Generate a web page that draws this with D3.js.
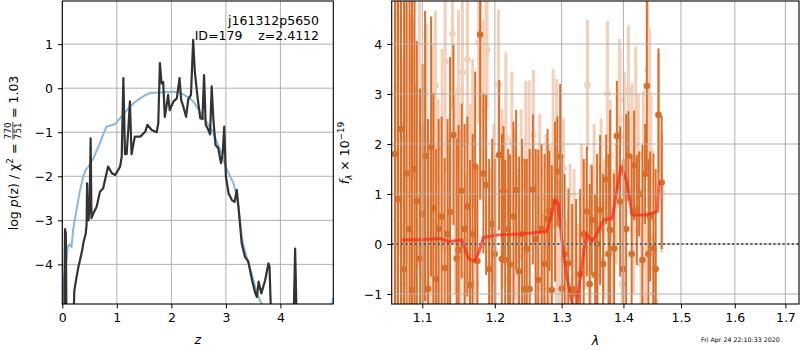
<!DOCTYPE html>
<html><head><meta charset="utf-8">
<script src="https://cdn.jsdelivr.net/npm/d3@7"></script>
<style>
body{margin:0;background:#fff}
svg{font-family:"DejaVu Sans",sans-serif}
.tick text{font-size:12.5px}
</style></head><body>
<svg width="800" height="350"></svg>
<script>
// left panel: redshift probability
var zTicks = [0, 1, 2, 3, 4]
var pTicks = [-4, -3, -2, -1, 0, 1]
var priorZ = [0,0.03,0.08,0.1,0.13,0.17,0.2,0.26,0.32,0.385,0.43,0.48,0.57,0.63,0.69,0.75,0.81,0.9,0.97,1.06,1.15,1.24,1.33,1.43,1.52,1.61,1.79,2.04,2.15,2.22,2.34,2.42,2.5,2.62,2.74,2.83,2.92,3.0,3.05,3.14,3.2,3.23,3.26,3.29,3.33,3.38,3.47,3.57,3.69,3.9,4.5,4.85,4.97]
var priorP = [-4.85,-4.3,-3.86,-3.6,-3.55,-3.6,-3.2,-2.77,-2.35,-2.0,-1.85,-1.78,-1.59,-1.42,-1.25,-1.05,-0.87,-0.84,-0.81,-0.68,-0.55,-0.42,-0.32,-0.23,-0.16,-0.11,-0.1,-0.08,-0.1,-0.14,-0.23,-0.33,-0.49,-0.72,-0.95,-1.2,-1.48,-1.8,-1.93,-2.16,-2.45,-2.69,-3.0,-3.37,-3.6,-3.83,-4.2,-4.66,-5.0,-5.6,-6,-5.6,-4.75]
var pzZ = [0.03,0.05,0.065,0.08,0.19,0.22,0.26,0.29,0.325,0.36,0.39,0.43,0.445,0.455,0.47,0.48,0.5,0.52,0.535,0.57,0.63,0.69,0.75,0.78,0.84,0.91,0.97,1.06,1.09,1.12,1.15,1.18,1.21,1.24,1.27,1.33,1.43,1.52,1.56,1.64,1.73,1.76,1.79,1.82,1.85,1.88,1.91,1.94,1.97,2.04,2.1,2.15,2.18,2.22,2.27,2.31,2.36,2.4,2.43,2.48,2.53,2.57,2.6,2.63,2.68,2.71,2.74,2.77,2.81,2.86,2.91,2.94,2.97,3.0,3.05,3.11,3.16,3.2,3.23,3.29,3.35,3.41,3.48,3.54,3.57,3.6,3.65,3.72,3.78,3.8,3.85,4.23,4.27,4.31]
var pzP = [-6,-3.2,-3.3,-6,-6,-4.6,-4.3,-4.09,-3.9,-3.71,-3.49,-3.3,-3.1,-2.16,-2.9,-3.0,-2.7,-1.14,-2.95,-2.84,-2.69,-2.35,-2.27,-2.1,-1.78,-1.93,-1.97,-1.78,-1.55,0.23,-1.5,-1.5,-0.95,-0.3,-1.5,-1.1,-1.1,-0.99,-0.83,-0.95,-1.0,-0.8,0.57,0.11,0.14,-0.65,-0.42,-0.15,-0.5,-0.3,-0.23,0.23,-0.27,-0.42,-0.65,-0.25,-0.15,1.1,0.38,-0.2,-0.68,-0.7,0.3,-0.83,-0.95,-1.05,0.04,-0.7,-1.29,-1.36,-1.7,-1.5,-0.87,-2.0,-2.39,-2.54,-2.58,-2.31,-2.69,-3.52,-3.83,-3.93,-4.36,-4.66,-4.74,-4.39,-4.66,-4.36,-3.98,-4.05,-6,-6,-3.64,-6]

// right panel: spectrum
var lamTicks = [1.1, 1.2, 1.3, 1.4, 1.5, 1.6, 1.7]
var fTicks = [-1, 0, 1, 2, 3, 4]
var darkLam = [1.0646,1.0684,1.0723,1.0762,1.0795,1.0834,1.0866,1.0898,1.0928,1.0971,
  1.1004,1.1037,1.1077,1.1117,1.1148,1.1184,1.1218,1.1258,1.1299,1.1339,
  1.1373,1.1419,1.1463,1.1490,1.1532,1.1573,1.1611,1.1649,1.1685,1.1720,
  1.1752,1.1790,1.1837,1.1875,1.1918,1.1961,1.1997,1.2062,1.2101,1.2125,
  1.2149,1.2193,1.2222,1.2270,1.2310,1.2354,1.2399,1.2436,1.2468,1.2511,
  1.2559,1.2601,1.2643,1.2692,1.2737,1.2783,1.2811,1.2848,1.2899,1.2935,
  1.2977,1.3004,1.3047,1.3106,1.3165,1.3228,1.3292,1.3348,1.3399,1.3444,
  1.3479,1.3533,1.3565,1.3614,1.3663,1.3713,1.3751,1.3779,1.3845,1.3890,
  1.3945,1.4000,1.4046,1.4084,1.4138,1.4181,1.4227,1.4266,1.4322,1.4369,
  1.4398,1.4426,1.4456,1.4513,1.4552,1.4601,1.4657]
var darkFlux = [1.8,0.9,2.3,-0.5,1.41,0.3,-0.92,1.5,0.86,-0.29,
  0.6,1.76,-0.9,1.95,0.72,-0.7,0.3,0.55,-0.48,0.2,
  0.64,2.18,-0.29,-0.12,1.06,0.3,0.75,-0.82,0.2,1.55,
  -0.34,4.19,1.41,1.18,-0.5,0.4,-0.2,1.78,-0.3,1.06,
  -0.32,0.3,-0.41,0.55,1.08,-0.55,0.2,-0.9,-0.1,-0.9,
  1.09,0.1,-0.72,0.3,-0.4,0.5,0.66,-0.92,0.85,1.45,
  1.75,-0.89,-0.2,-0.39,-0.9,-1.0,-0.6,0.2,0.65,-0.8,
  0.48,-0.62,0.0,0.68,-0.4,1.29,-0.2,0.28,-0.09,2.16,
  0.85,-0.5,0.3,1.76,-0.2,1.57,0.68,1.0,-0.32,1.4,
  3.16,-0.2,0.55,-0.09,-0.5,2.58,1.23]
var darkErr = [4.2,5.0,4.0,5.6,4.0,5.0,5.8,3.4,3.2,3.4,
  3.0,2.9,3.4,2.6,2.3,2.6,2.2,2.0,2.2,2.3,
  3.1,1.8,2.4,2.5,1.75,2.1,1.8,2.5,2.0,1.9,
  1.9,3.3,1.6,1.8,2.2,1.7,1.9,1.5,2.5,1.3,
  2.0,1.6,2.2,1.9,1.6,2.3,1.9,2.6,1.8,2.8,
  1.5,1.8,2.6,1.7,2.2,1.8,1.2,2.5,1.6,1.1,
  1.45,2.6,1.6,1.5,1.7,1.9,1.7,1.5,1.3,2.0,
  1.1,1.6,1.8,1.5,1.8,0.9,2.0,2.4,1.5,1.1,
  1.5,2.2,2.3,0.9,2.0,1.1,1.1,0.85,2.3,1.0,
  1.7,1.9,1.3,1.9,2.0,1.33,1.33]
var lightLam = [1.0665,1.0710,1.0749,1.0788,1.0840,1.0879,1.0918,1.0962,1.1011,1.1057,
  1.1104,1.1144,1.1175,1.1211,1.1265,1.1306,1.1346,1.1405,1.1442,1.1487,
  1.1518,1.1543,1.1580,1.1612,1.1649,1.1685,1.1727,1.1769,1.1797,1.1828,
  1.1871,1.1889,1.1932,1.1983,1.2011,1.2052,1.2105,1.2159,1.2200,1.2247,
  1.2288,1.2332,1.2384,1.2453,1.2503,1.2568,1.2616,1.2661,1.2715,1.2760,
  1.2807,1.2868,1.2922,1.2961,1.3029,1.3078,1.3133,1.3196,1.3260,1.3316,
  1.3372,1.3409,1.3460,1.3517,1.3574,1.3630,1.3680,1.3734,1.3779,1.3829,
  1.3879,1.3933,1.3945,1.3979,1.4017,1.4084,1.4141,1.4172,1.4209,1.4253,
  1.4300,1.4339,1.4377,1.4412,1.4443,1.4468,1.4508,1.4543,1.4601,1.4661]
var lightFlux = [0.5,2.8,-0.8,2.2,1.0,2.9,0.0,2.19,-0.6,0.9,
  -0.95,1.4,3.17,0.4,1.9,3.65,-0.1,4.2,1.0,3.08,
  0.3,3.43,-0.6,3.69,0.8,2.2,-0.8,4.03,3.78,2.69,
  3.79,3.89,-0.4,0.8,0.3,3.19,0.9,2.13,-0.7,2.05,
  0.6,-0.3,1.2,1.66,1.77,2.18,0.1,1.4,-0.9,0.9,
  0.3,1.9,1.0,-0.3,1.51,-0.9,0.6,0.2,-1.0,0.9,
  0.4,3.18,0.1,1.3,-0.6,1.51,0.3,3.01,1.78,-0.1,
  0.8,2.5,2.88,-0.8,2.15,3.07,1.91,0.3,2.55,1.8,
  -0.4,1.77,-1.1,3.5,2.93,1.84,-1.0,-1.15,2.61,1.03]
var lightErr = [5.0,3.0,4.5,2.6,3.6,1.6,3.2,2.7,3.0,3.5,
  3.0,2.6,1.5,2.5,2.0,2.2,2.2,1.5,2.0,1.6,
  2.0,1.5,2.0,1.7,2.0,1.5,1.8,1.6,1.4,1.8,
  1.3,1.2,1.9,1.6,1.5,1.5,1.8,1.7,1.8,1.4,
  1.7,1.8,1.5,1.6,1.5,1.3,1.8,1.2,1.5,1.3,
  1.7,1.6,2.3,1.6,1.0,1.4,1.0,1.3,1.4,1.1,
  1.3,1.3,1.5,1.1,1.5,1.0,1.4,1.45,1.1,1.6,
  1.2,1.6,1.0,1.6,1.3,1.3,1.3,1.3,1.4,1.2,
  1.5,1.3,1.5,1.5,1.4,1.1,1.2,1.1,1.2,1.2]
var modelLam = [1.0731,1.1013,1.1238,1.1350,1.1534,1.1626,1.1710,1.1775,1.1836,1.2025,1.2369,1.2771,1.2822,1.2899,1.2950,1.3003,1.3081,1.3160,1.3200,1.3240,1.3265,1.3346,1.3400,1.3481,1.3562,1.3670,1.3809,1.3864,1.3959,1.4061,1.4146,1.4376,1.4582,1.4610]
var modelFlux = [0.08,0.09,0.11,0.05,0.08,-0.29,-0.35,-0.16,0.13,0.18,0.2,0.25,0.48,0.88,0.8,0.08,-0.65,-1.15,-1.3,-1.25,-0.92,-0.19,0.21,0.05,0.21,0.48,0.51,0.88,1.55,1.23,0.58,0.58,0.65,1.25]

var svg = d3.select('svg')
var L = {x0: 62.3, x1: 333.3, y0: 1, y1: 304}
var R = {x0: 391.7, x1: 799, y0: 1, y1: 304}
var orange = '#d8641a'

var xz = d3.scaleLinear().domain([0, 4.97]).range([L.x0, L.x1])
var yp = d3.scaleLinear().domain([-4.9, 1.98]).range([L.y1, L.y0])
var xl = d3.scaleLog().domain([1.0604, 1.728]).range([R.x0, R.x1])
var yf = d3.scaleLinear().domain([-1.2, 4.86]).range([R.y1, R.y0])

var defs = svg.append('defs')
function clip(id, b) {
    defs.append('clipPath').attr('id', id).append('rect')
        .attr('x', b.x0).attr('y', b.y0).attr('width', b.x1 - b.x0).attr('height', b.y1 - b.y0)
}
clip('cl', L)
clip('cr', R)

function grid(b, xs, xt, ys, yt) {
    var g = svg.append('g').style('stroke', '#b0b0b0').style('stroke-width', 1)
    g.selectAll('.gx').data(xt).enter().append('line')
        .attr('x1', xs).attr('x2', xs).attr('y1', b.y0).attr('y2', b.y1)
    g.selectAll('.gy').data(yt).enter().append('line')
        .attr('y1', ys).attr('y2', ys).attr('x1', b.x0).attr('x2', b.x1)
}
grid(L, xz, zTicks, yp, pTicks)

// left curves
var cl = svg.append('g').attr('clip-path', 'url(#cl)')
cl.append('path').datum(d3.range(priorZ.length))
    .attr('fill', 'none').attr('stroke', '#8ab8dc').attr('stroke-width', 2)
    .attr('d', d3.line().x(function(i){ return xz(priorZ[i]) }).y(function(i){ return yp(priorP[i]) }))
cl.append('path').datum(d3.range(pzZ.length))
    .attr('fill', 'none').attr('stroke', '#333').attr('stroke-width', 2.2).attr('stroke-linejoin', 'round')
    .attr('d', d3.line().x(function(i){ return xz(pzZ[i]) }).y(function(i){ return yp(pzP[i]) }))

// right: error bars
var cr = svg.append('g').attr('clip-path', 'url(#cr)')
function bars(lam, flux, err, op, w) {
    var g = cr.append('g').attr('opacity', op)
    g.selectAll('line').data(lam).enter().append('line')
        .attr('x1', function(d){ return xl(d) }).attr('x2', function(d){ return xl(d) })
        .attr('y1', function(d, i){ return yf(flux[i] - err[i]) })
        .attr('y2', function(d, i){ return yf(flux[i] + err[i]) })
        .attr('stroke', orange).attr('stroke-width', w)
    g.selectAll('circle').data(lam).enter().append('circle')
        .attr('cx', function(d){ return xl(d) })
        .attr('cy', function(d, i){ return yf(flux[i]) })
        .attr('r', 3.3).attr('fill', orange)
}
bars(lightLam, lightFlux, lightErr, 0.3, 3)
bars(darkLam, darkFlux, darkErr, 0.92, 2)

// grid sits over the error bars on this panel
grid(R, xl, lamTicks, yf, fTicks)

cr.append('line').attr('x1', R.x0).attr('x2', R.x1).attr('y1', yf(0)).attr('y2', yf(0))
    .attr('stroke', '#000').attr('stroke-width', 1.8).attr('stroke-dasharray', '2,2.6')
cr.append('path').datum(d3.range(modelLam.length))
    .attr('fill', 'none').attr('stroke', '#ff2a14').attr('stroke-width', 3).attr('opacity', 0.75)
    .attr('stroke-linejoin', 'round')
    .attr('d', d3.line().x(function(i){ return xl(modelLam[i]) }).y(function(i){ return yf(modelFlux[i]) }))

// axes
function axis(gen, tr) {
    var g = svg.append('g').attr('transform', tr).call(gen)
    g.select('.domain').remove()
    g.selectAll('.tick line').attr('stroke', '#000')
    g.selectAll('.tick text').attr('fill', '#000').style('font-family', '"DejaVu Sans"')
}
axis(d3.axisBottom(xz).tickValues(zTicks).tickSize(4.4).tickPadding(4.5).tickFormat(d3.format('d')), 'translate(0,' + L.y1 + ')')
axis(d3.axisLeft(yp).tickValues(pTicks).tickSize(4.4).tickPadding(5).tickFormat(d3.format('d')), 'translate(' + L.x0 + ',0)')
axis(d3.axisBottom(xl).tickValues(lamTicks).tickSize(4.4).tickPadding(4.5).tickFormat(d3.format('.1f')), 'translate(0,' + R.y1 + ')')
axis(d3.axisLeft(yf).tickValues(fTicks).tickSize(4.4).tickPadding(5).tickFormat(d3.format('d')), 'translate(' + R.x0 + ',0)')

;[L, R].forEach(function(b){
    svg.append('rect').attr('x', b.x0).attr('y', b.y0).attr('width', b.x1 - b.x0).attr('height', b.y1 - b.y0)
        .attr('fill', 'none').attr('stroke', '#000').attr('stroke-width', 1.1)
})

// texts
svg.append('text').attr('x', 319).attr('y', 25).attr('text-anchor', 'end').attr('font-size', 12.5).text('j161312p5650')
svg.append('text').attr('x', 319).attr('y', 39.5).attr('text-anchor', 'end').attr('font-size', 12.5)
    .style('white-space', 'pre').text('ID=179    z=2.4112')

svg.append('text').attr('x', (L.x0 + L.x1) / 2).attr('y', 344).attr('text-anchor', 'middle')
    .attr('font-size', 12.5).attr('font-style', 'italic').text('z')
svg.append('text').attr('x', (R.x0 + R.x1) / 2).attr('y', 345).attr('text-anchor', 'middle')
    .attr('font-size', 12.5).attr('font-style', 'italic').text('λ')
svg.append('text').attr('x', 701).attr('y', 341.5).attr('font-size', 6.3).text('Fri Apr 24 22:10:33 2020')

function piece(g, x, y, s, size, italic) {
    var t = g.append('text').attr('x', x).attr('y', y).attr('font-size', size)
        .style('white-space', 'pre').text(s)
    if (italic) t.attr('font-style', 'italic')
    return t.node().getComputedTextLength()
}

// left y label
var gl = svg.append('g').attr('transform', 'translate(17.5,153) rotate(-90)')
var il = gl.append('g')
var x = 0
x += piece(il, x, 0, 'log ', 12.5)
x += piece(il, x, 0, 'p', 12.5, true)
x += piece(il, x, 0, '(z) / χ', 12.5)
x += piece(il, x, -5, '2', 8.75)
x += piece(il, x, 0, ' = ', 12.5)
var w1 = piece(il, x + 0.5, -6.5, '770', 8.75)
piece(il, x + 0.5, 3.5, '751', 8.75)
il.append('line').attr('x1', x).attr('x2', x + w1 + 1).attr('y1', -4.6).attr('y2', -4.6)
    .attr('stroke', '#000').attr('stroke-width', 0.8)
x += w1 + 1
x += piece(il, x, 0, ' = 1.03', 12.5)
il.attr('transform', 'translate(' + (-x / 2) + ',0)')

// right y label
var gr = svg.append('g').attr('transform', 'translate(349,153) rotate(-90)')
var ir = gr.append('g')
x = 0
x += piece(ir, x, 0, 'f', 12.5, true)
x += piece(ir, x, 3, 'λ', 8.75, true)
x += piece(ir, x, 0, ' × 10', 12.5)
x += piece(ir, x, -5.5, '−19', 8.75)
ir.attr('transform', 'translate(' + (-x / 2) + ',0)')
</script>
</body></html>
